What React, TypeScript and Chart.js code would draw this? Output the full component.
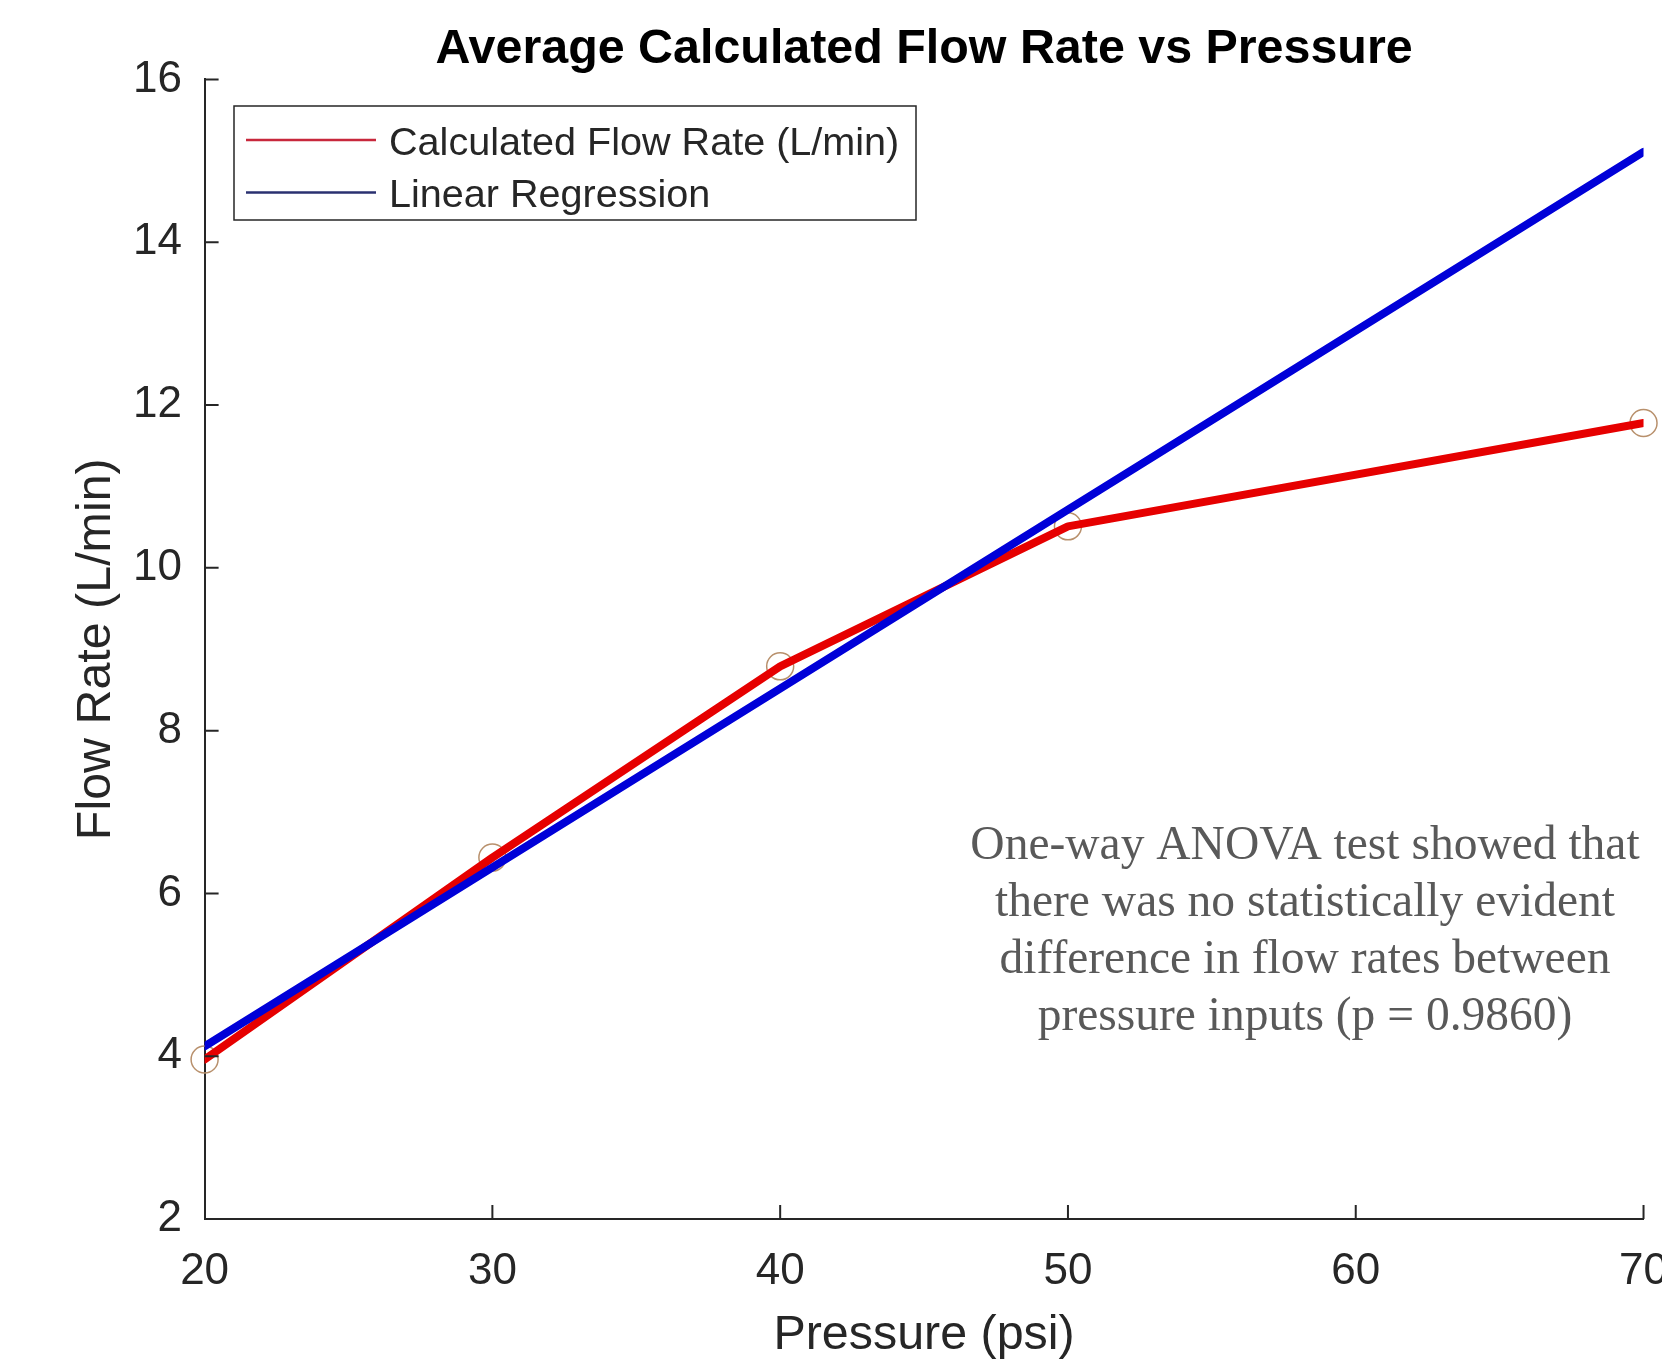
import React, { useEffect, useRef } from 'react';
import { Chart, registerables } from 'chart.js';

Chart.register(...registerables);

// ---- data ----
const pressure = [20, 30, 40, 50, 70];
const flowRate = [3.96, 6.44, 8.79, 10.51, 11.78];
const regressionX = [20, 70];
const regressionY = [4.12, 15.11];
const xRange = [20, 70];
const yRange = [2, 16];
const xStep = 10;
const yStep = 2;
const titleText = 'Average Calculated Flow Rate vs Pressure';
const xTitle = 'Pressure (psi)';
const yTitle = 'Flow Rate (L/min)';
const legendLabels = ['Calculated Flow Rate (L/min)', 'Linear Regression'];
const noteLines = [
  'One-way ANOVA test showed that',
  'there was no statistically evident',
  'difference in flow rates between',
  'pressure inputs (p = 0.9860)',
];

const SANS = "'Liberation Sans', Arial, Helvetica, sans-serif";
const SERIF = "'Liberation Serif', 'Times New Roman', serif";
const AXIS_COLOR = '#262626';
const RED = '#e60000';
const BLUE = '#0000d8';

const inwardTicks = {
  id: 'inwardTicks',
  afterDatasetsDraw(chart: any) {
    const { ctx, chartArea, scales } = chart;
    const len = 14;
    ctx.save();
    ctx.strokeStyle = AXIS_COLOR;
    ctx.lineWidth = 2;
    ctx.beginPath();
    scales.x.ticks.forEach((t: any) => {
      const px = scales.x.getPixelForValue(t.value);
      if (Math.abs(px - chartArea.left) < 1) return;
      ctx.moveTo(px, chartArea.bottom);
      ctx.lineTo(px, chartArea.bottom - len);
    });
    scales.y.ticks.forEach((t: any) => {
      const py = scales.y.getPixelForValue(t.value);
      if (Math.abs(py - chartArea.bottom) < 1) return;
      ctx.moveTo(chartArea.left, py);
      ctx.lineTo(chartArea.left + len, py);
    });
    ctx.stroke();
    ctx.restore();
  },
};

const legendBox = {
  id: 'legendBox',
  afterDraw(chart: any) {
    const { ctx } = chart;
    const x0 = 234, y0 = 106, w = 682, h = 114;
    ctx.save();
    ctx.fillStyle = '#ffffff';
    ctx.fillRect(x0, y0, w, h);
    ctx.strokeStyle = AXIS_COLOR;
    ctx.lineWidth = 1.5;
    ctx.strokeRect(x0, y0, w, h);
    const rows = [140, 192.5];
    const colors = ['#c8283c', '#2a3070'];
    ctx.font = `39.6px ${SANS}`;
    ctx.textBaseline = 'middle';
    ctx.textAlign = 'left';
    legendLabels.forEach((label, i) => {
      ctx.strokeStyle = colors[i];
      ctx.lineWidth = 2.5;
      ctx.beginPath();
      ctx.moveTo(246, rows[i]);
      ctx.lineTo(376, rows[i]);
      ctx.stroke();
      ctx.fillStyle = AXIS_COLOR;
      ctx.fillText(label, 389, rows[i] + 4);
    });
    ctx.restore();
  },
};

const noteText = {
  id: 'noteText',
  afterDraw(chart: any) {
    const { ctx } = chart;
    ctx.save();
    ctx.font = `47.5px ${SERIF}`;
    ctx.fillStyle = '#595959';
    ctx.textAlign = 'center';
    ctx.textBaseline = 'middle';
    noteLines.forEach((line, i) => {
      ctx.fillText(line, 1305, 847 + i * 57);
    });
    ctx.restore();
  },
};

export default function App() {
  const canvasRef = useRef<HTMLCanvasElement | null>(null);

  useEffect(() => {
    if (!canvasRef.current) return;
    const chart = new Chart(canvasRef.current, {
      type: 'scatter',
      data: {
        datasets: [
          {
            label: legendLabels[1],
            data: regressionX.map((x, i) => ({ x, y: regressionY[i] })),
            showLine: true,
            borderColor: BLUE,
            borderWidth: 8,
            pointRadius: 0,
            borderCapStyle: 'round',
            order: 0,
          },
          {
            label: legendLabels[0],
            data: pressure.map((x, i) => ({ x, y: flowRate[i] })),
            showLine: true,
            borderColor: RED,
            borderWidth: 8,
            pointRadius: 0,
            borderCapStyle: 'round',
            borderJoinStyle: 'round',
            order: 1,
          },
          {
            label: 'markers',
            data: pressure.map((x, i) => ({ x, y: flowRate[i] })),
            showLine: false,
            pointRadius: 13.5,
            pointBorderWidth: 1.5,
            pointBorderColor: '#b8906c',
            pointBackgroundColor: 'rgba(0,0,0,0)',
            clip: false as any,
            order: 2,
          },
        ],
      },
      options: {
        animation: false,
        responsive: false,
        maintainAspectRatio: false,
        devicePixelRatio: 1,
        layout: { padding: 0 },
        plugins: {
          legend: { display: false },
          tooltip: { enabled: false },
          title: {
            display: true,
            text: titleText,
            fullSize: false,
            color: '#000',
            font: { family: SANS, size: 48.4, weight: 'bold' },
            padding: { top: 21, bottom: 0.4 },
          },
        },
        scales: {
          x: {
            type: 'linear',
            min: xRange[0],
            max: xRange[1],
            afterFit(scale: any) {
              scale.height = 144;
            },
            ticks: {
              stepSize: xStep,
              color: AXIS_COLOR,
              font: { family: SANS, size: 44 },
              padding: 26,
              maxRotation: 0,
            },
            grid: { display: true, drawOnChartArea: false, drawTicks: false },
            border: { display: true, color: AXIS_COLOR, width: 2 },
            title: {
              display: true,
              text: xTitle,
              color: AXIS_COLOR,
              font: { family: SANS, size: 48.4 },
              padding: { top: 0, bottom: -2 },
            },
          },
          y: {
            type: 'linear',
            min: yRange[0],
            max: yRange[1],
            afterFit(scale: any) {
              scale.width = 204.6;
            },
            ticks: {
              stepSize: yStep,
              color: AXIS_COLOR,
              font: { family: SANS, size: 44 },
              padding: 22.6,
            },
            grid: { display: true, drawOnChartArea: false, drawTicks: false },
            border: { display: true, color: AXIS_COLOR, width: 2 },
            title: {
              display: true,
              text: yTitle,
              color: AXIS_COLOR,
              font: { family: SANS, size: 48.4 },
              padding: { top: 68, bottom: 0 },
            },
          },
        },
      },
      plugins: [inwardTicks, legendBox, noteText],
    } as any);
    return () => chart.destroy();
  }, []);

  return (
    <div
      style={{
        position: 'fixed',
        left: 0,
        top: 0,
        width: 1662,
        height: 1363,
        overflow: 'hidden',
        background: '#ffffff',
      }}
    >
      <canvas ref={canvasRef} width={1694} height={1363} style={{ display: 'block' }} />
    </div>
  );
}
